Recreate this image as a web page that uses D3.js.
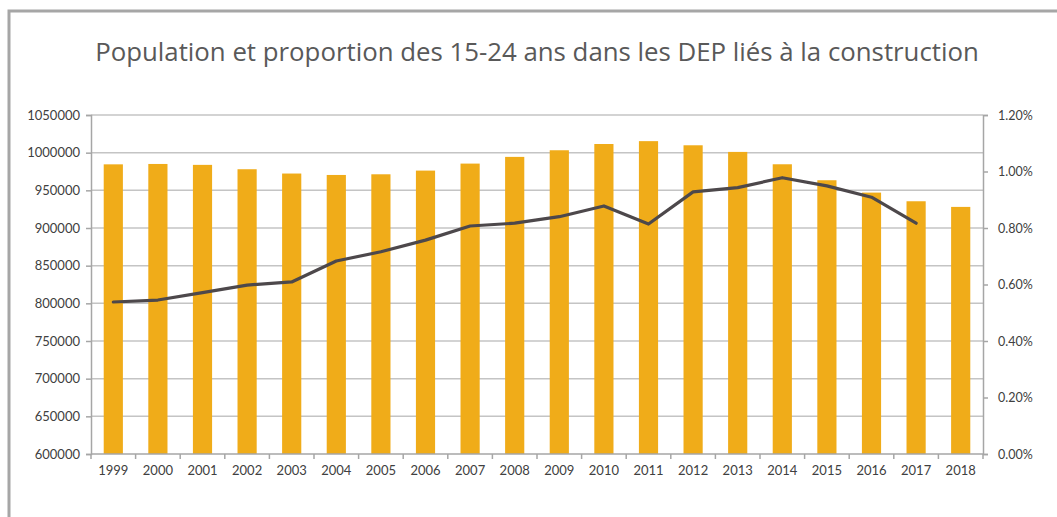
<!DOCTYPE html>
<html>
<head>
<meta charset="utf-8">
<script src="https://cdn.jsdelivr.net/npm/d3@7"></script>
<style>
  body { margin: 0; background: #fff; }
  svg { display: block; }
</style>
</head>
<body>
<svg id="chart" width="1057" height="517"></svg>
<script>
const years = ["1999", "2000", "2001", "2002", "2003", "2004", "2005", "2006", "2007", "2008",
  "2009", "2010", "2011", "2012", "2013", "2014", "2015", "2016", "2017", "2018"];
const population = [984500, 985000, 983800, 978000, 972300, 970400, 971300, 976200, 985500, 994400,
  1003200, 1011500, 1015300, 1009800, 1001000, 984600, 963400, 947000, 935500, 928000];
const proportion = [0.538, 0.545, 0.571, 0.598, 0.609, 0.683, 0.716, 0.757, 0.807, 0.817,
  0.840, 0.878, 0.814, 0.928, 0.943, 0.978, 0.949, 0.909, 0.817, null];
const leftTicks = [600000, 650000, 700000, 750000, 800000, 850000, 900000, 950000, 1000000, 1050000];
const rightTicks = [0, 0.2, 0.4, 0.6, 0.8, 1.0, 1.2];

const svg = d3.select("#chart");
const font = "Lato, 'Open Sans', sans-serif";
const mLeft = 91, mRight = 983, mTop = 115, mBottom = 454;

// frame (top and left edges only)
svg.append("path")
    .attr("d", "M9,530V11H1057")
    .attr("fill", "none")
    .attr("stroke", "#a6a6a6")
    .attr("stroke-width", 3);

const title = svg.append("text")
    .attr("x", (mLeft + mRight) / 2)
    .attr("y", 61)
    .attr("text-anchor", "middle")
    .attr("font-family", "'Open Sans', sans-serif")
    .attr("font-size", 26)
    .attr("fill", "#595959")
    .text("Population et proportion des 15-24 ans dans les DEP liés à la construction");
const tw = title.node().getComputedTextLength();
title.attr("font-size", 26 * 884 / tw);

const x = d3.scaleBand().domain(years).range([mLeft, mRight]).paddingInner(0.57).paddingOuter(0.285);
const y = d3.scaleLinear().domain([600000, 1050000]).range([mBottom, mTop]);
const y2 = d3.scaleLinear().domain([0, 1.2]).range([mBottom, mTop]);

// gridlines
svg.append("g")
  .selectAll("line")
  .data(leftTicks.slice(1))
  .join("line")
    .attr("x1", mLeft).attr("x2", mRight)
    .attr("y1", d => y(d)).attr("y2", d => y(d))
    .attr("stroke", "#c4c4c4")
    .attr("stroke-width", 1.5);

// bars
svg.append("g")
  .selectAll("rect")
  .data(population)
  .join("rect")
    .attr("x", (d, i) => x(years[i]))
    .attr("y", d => y(d))
    .attr("width", x.bandwidth())
    .attr("height", d => mBottom - y(d))
    .attr("fill", "#f0ac19");

// line
const line = d3.line()
    .defined(d => d != null)
    .x((d, i) => x(years[i]) + x.bandwidth() / 2)
    .y(d => y2(d));
svg.append("path")
    .datum(proportion)
    .attr("d", line)
    .attr("fill", "none")
    .attr("stroke", "#4d484b")
    .attr("stroke-width", 3.2)
    .attr("stroke-linejoin", "round")
    .attr("stroke-linecap", "round");

// axes
const leftAxis = d3.axisLeft(y).tickValues(leftTicks).tickSize(5).tickPadding(6).tickFormat(d3.format("d"));
const rightAxis = d3.axisRight(y2).tickValues(rightTicks).tickSize(5).tickPadding(10).tickFormat(d => d.toFixed(2) + "%");
const xAxis = d3.axisBottom(x).tickSize(0).tickPadding(12);

function style(g) {
  g.select(".domain").attr("stroke", "#a6a6a6").attr("stroke-width", 1.5);
  g.selectAll(".tick line").attr("stroke", "#a6a6a6").attr("stroke-width", 1.5);
  g.selectAll("text").attr("fill", "#404040").attr("font-family", font).attr("font-size", 13);
}

svg.append("g").attr("transform", `translate(${mLeft},0)`).call(leftAxis).call(style);
svg.append("g").attr("transform", `translate(${mRight},0)`).call(rightAxis).call(style)
    .selectAll("text").attr("font-size", 12.5);
const xg = svg.append("g").attr("transform", `translate(0,${mBottom})`).call(xAxis).call(style);
xg.select(".domain").attr("d", `M${mLeft},0H${mRight}`);

// x ticks on band boundaries
svg.append("g")
  .selectAll("line")
  .data(d3.range(years.length + 1))
  .join("line")
    .attr("x1", i => mLeft + i * x.step())
    .attr("x2", i => mLeft + i * x.step())
    .attr("y1", mBottom).attr("y2", mBottom + 5)
    .attr("stroke", "#a6a6a6")
    .attr("stroke-width", 1.5);
</script>
</body>
</html>
